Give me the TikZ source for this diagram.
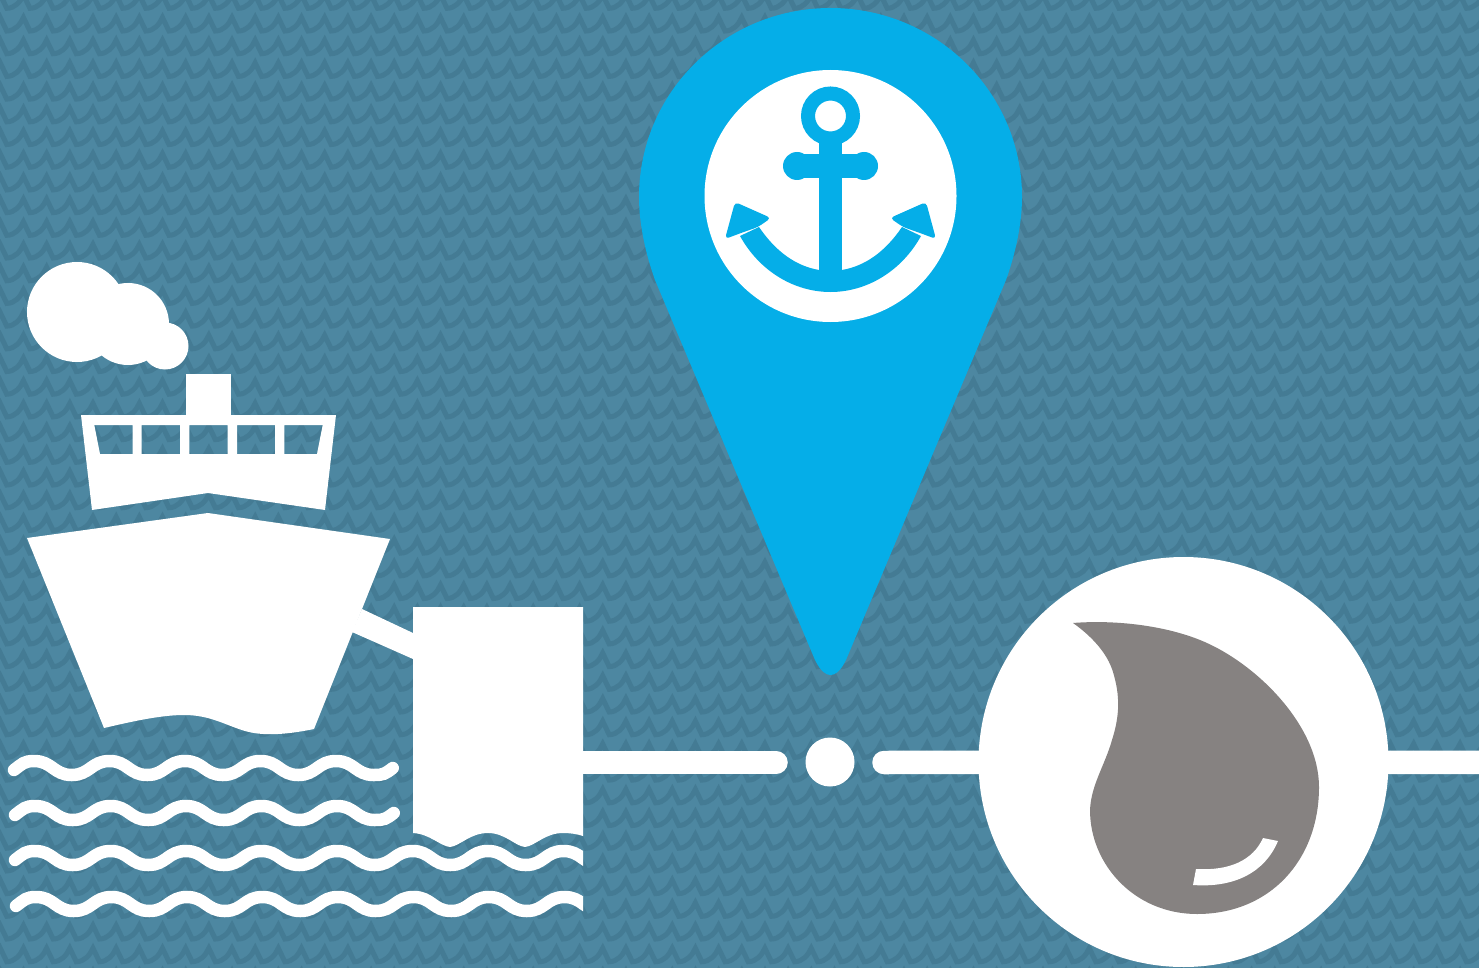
\documentclass[tikz,border=0pt]{standalone}
\usepackage{xcolor}
\usetikzlibrary{positioning}
\definecolor{seabg}{HTML}{4D87A1}
\definecolor{seawave}{HTML}{447B94}
\definecolor{pinblue}{HTML}{05AEE8}
\definecolor{oilgrey}{HTML}{868281}
% one row of white waves: start, last rise, number of half waves
\newcommand{\waverow}[3]{
    \draw[swell] #1 .. controls +(8,-6) and +(-10,0) .. ++(20,-9)
        \foreach \k in {1,...,#3} {
            .. controls +(18,0) and +(-18,0) .. ++(37.75,{ifthenelse(mod(\k,2)==1,14,-14)})
        } #2;
}
\begin{document}
\begin{tikzpicture}[
        x=1pt, y=-1pt,
        ripple/.style={draw=seawave, line width=5pt, miter limit=6},
        swell/.style={draw=white, line width=12.5pt, line cap=round},
        link/.style={draw=white, line width=23.5pt, line cap=round},
        dotnode/.style={circle, fill=white, inner sep=0pt, minimum size=49pt},
        discnode/.style={circle, fill=white, inner sep=0pt, minimum size=410pt}
    ]
    \useasboundingbox (0,0) rectangle (1479,968);
    \fill[seabg] (0,0) rectangle (1479,968);
    % background pattern
    \foreach \j in {-1,...,43} {
        \draw[ripple] (-16.4,8.3+22.7*\j)
            \foreach \i in {0,...,65} {
                .. controls +(8,0) and +(-3,7) .. ++(16.67,-13.5) -- ++(6.5,13.5)
            };
    }
    % connectors
    \coordinate (blockport) at (583,762.5);
    \coordinate (lineleft) at (776,762.5);
    \coordinate (lineright) at (884,762.5);
    \coordinate (rightedge) at (1490,762.5);
    \node[dotnode] (dot) at (830,762) {};
    \node[discnode] (disc) at (1183.5,762) {};
    \draw[link] (blockport) -- (lineleft);
    \draw[link] (lineright) -- (disc);
    \draw[link] (disc) -- (rightedge);
    % smoke
    \fill[white] (77,312) circle (50) (128,324) circle (41) (165,346) circle (23.5);
    % ship
    \fill[white] (186,374) rectangle (231,416);
    \fill[white, even odd rule] (81,415) -- (336,415) -- (325,510) -- (208,493) -- (92,510) -- cycle
        (94.3,425) -- (132.7,425) -- (132.7,454) -- (100,454) -- cycle
        (141.7,425) rectangle (180,454)
        (189.3,425) rectangle (227.7,454)
        (237,425) rectangle (275,454)
        (284.3,425) -- (322.7,425) -- (317,454) -- (284.3,454) -- cycle;
    \fill[white] (27,538) -- (208,513) -- (390,539) -- (314,729)
        .. controls (285,735) and (262,736) .. (245,731)
        .. controls (225,725) and (210,715) .. (184,715)
        .. controls (160,715) and (130,722) .. (104,728) -- cycle;
    % mooring and quay
    \fill[white] (362,609) -- (413,633) -- (413,659) -- (352,632) -- cycle;
    \fill[white] (413,607) -- (583,607) -- (583,836)
        .. controls (577,834) and (570,833) .. (563,833)
        .. controls (545,833) and (535,846) .. (525,847)
        .. controls (515,846) and (505,833) .. (488,833)
        .. controls (470,833) and (460,846) .. (450,847)
        .. controls (440,846) and (430,834) .. (413,833) -- cycle;
    % sea
    \waverow{(14,770)}{.. controls +(10,0) and +(-8,6) .. ++(19,-7)}{9}
    \waverow{(15,815)}{.. controls +(10,0) and +(-8,6) .. ++(19,-7)}{9}
    \begin{scope}
        \clip (0,830) rectangle (583,930);
        \waverow{(15,860)}{}{15}
        \waverow{(16,906)}{}{15}
    \end{scope}
    % pin
    \fill[pinblue] (830.5,8) .. controls (936,8) and (1022,92) .. (1022,197)
        .. controls (1022,225) and (1015,255) .. (1006,280)
        -- (846,660) .. controls (840,672) and (835,675) .. (830.5,675)
        .. controls (826,675) and (821,672) .. (815,660)
        -- (655,280) .. controls (646,255) and (639,225) .. (639,197)
        .. controls (639,92) and (725,8) .. (830.5,8) -- cycle;
    \fill[white] (830.5,196) circle (126);
    % anchor
    \draw[pinblue, line width=14pt] (830.5,116) circle (22.5);
    \fill[pinblue] (819,132) rectangle (842,275);
    \fill[pinblue] (797,154) rectangle (864,178);
    \fill[pinblue] (797,166) circle (14);
    \fill[pinblue] (864,166) circle (14);
    \fill[pinblue] (740,236) .. controls (760,272) and (795,292) .. (830.5,292)
        .. controls (866,292) and (901,272) .. (921,236) -- (902,227)
        .. controls (885,252) and (865,266) .. (842,270) -- (819,270)
        .. controls (796,266) and (776,252) .. (759,227) -- cycle;
    \fill[pinblue, rounded corners=4pt] (735,202) -- (771,218) -- (758,227) -- (741,233) -- (725,239) -- cycle;
    \fill[pinblue, rounded corners=4pt] (926,202) -- (890,218) -- (903,227) -- (920,233) -- (936,239) -- cycle;
    % oil drop
    \fill[oilgrey] (1073,623) .. controls (1110,620) and (1160,624) .. (1200,640)
        .. controls (1255,662) and (1319,725) .. (1319,787)
        .. controls (1319,860) and (1270,914) .. (1197,914)
        .. controls (1135,914) and (1090,865) .. (1090,810)
        .. controls (1091,785) and (1105,765) .. (1112,740)
        .. controls (1120,715) and (1120,695) .. (1113,672)
        .. controls (1107,652) and (1090,635) .. (1073,623) -- cycle;
    \fill[white] (1193,885) -- (1196,869)
        .. controls (1230,871) and (1253,860) .. (1263,838)
        -- (1278,841)
        .. controls (1265,872) and (1235,888) .. (1193,885) -- cycle;
\end{tikzpicture}
\end{document}
